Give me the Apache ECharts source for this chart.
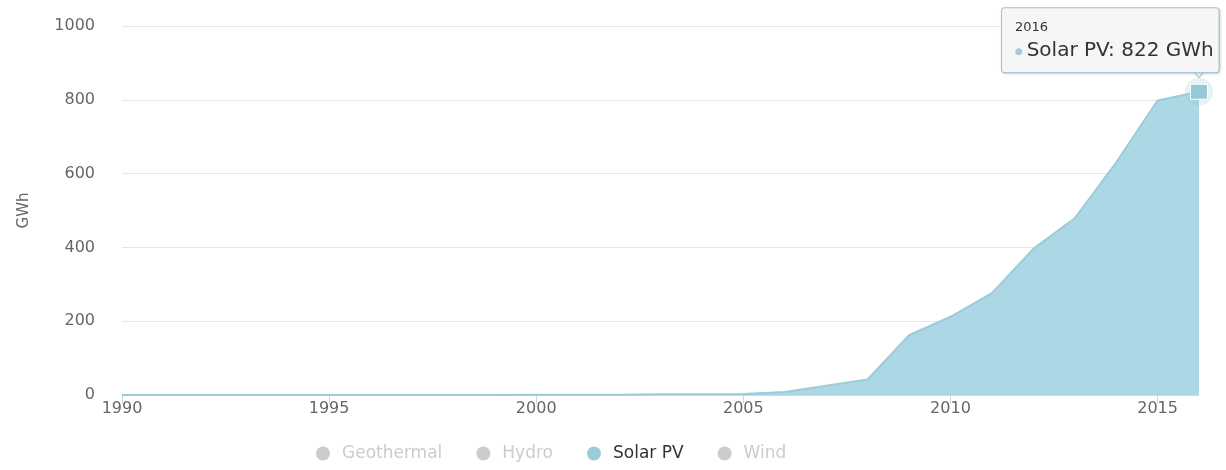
<!DOCTYPE html>
<html>
<head>
<meta charset="utf-8">
<title>Solar PV generation</title>
<script src="https://cdn.jsdelivr.net/npm/echarts@6/dist/echarts.min.js"></script>
<style>
  html, body { margin: 0; padding: 0; background: #ffffff; }
  #chart { width: 1226px; height: 470px; }
</style>
</head>
<body>
<div id="chart"></div>
<script>
// Annual electricity generation by source (GWh)
const years = [1990, 1991, 1992, 1993, 1994, 1995, 1996, 1997, 1998, 1999,
               2000, 2001, 2002, 2003, 2004, 2005, 2006, 2007, 2008, 2009,
               2010, 2011, 2012, 2013, 2014, 2015, 2016];
const solarPV = [0, 0, 0, 0, 0, 0, 0, 0, 0, 0,
                 1, 1, 1, 2, 2, 3, 8, 25, 42, 162,
                 212, 276, 396, 479, 630, 798, 822];
const geothermal = [];
const hydro = [];
const wind = [];
const xTicks = [1990, 1995, 2000, 2005, 2010, 2015];
const yTicks = [0, 200, 400, 600, 800, 1000];

const seriesNames = ['Geothermal', 'Hydro', 'Solar PV', 'Wind'];
const solarColor = '#9ccbda';
const solarFill = '#acd7e4';
const font = 'DejaVu Sans';

const pairs = arr => arr.map((v, i) => [years[i], v]);
const lastYear = years[years.length - 1];
const lastValue = solarPV[solarPV.length - 1];
const focus = [lastYear, lastValue];

const chart = echarts.init(document.getElementById('chart'), null, { renderer: 'canvas' });

chart.setOption({
  animation: false,
  backgroundColor: '#ffffff',
  textStyle: { fontFamily: font },
  grid: { left: 122, right: 27, top: 26, bottom: 75 },
  legend: {
    left: 311,
    bottom: 3,
    icon: 'circle',
    itemWidth: 14,
    itemHeight: 14,
    itemGap: 34,
    inactiveColor: '#cccccc',
    textStyle: { fontFamily: font, fontSize: 17, color: '#333333', padding: [0, 0, 0, 7] },
    data: seriesNames,
    selected: { 'Geothermal': false, 'Hydro': false, 'Solar PV': true, 'Wind': false }
  },
  xAxis: {
    type: 'value',
    min: 1990,
    max: 2016,
    interval: 5,
    axisLine: { show: true, lineStyle: { color: '#ccd6eb', width: 1 } },
    axisTick: { show: true, length: 9, lineStyle: { color: '#ccd6eb' }, customValues: xTicks },
    axisLabel: {
      customValues: xTicks,
      formatter: v => String(v),
      color: '#666666', fontSize: 16, fontFamily: font, margin: 6
    },
    splitLine: { show: false }
  },
  yAxis: {
    type: 'value',
    min: 0,
    max: 1000,
    interval: 200,
    name: 'GWh',
    nameLocation: 'middle',
    nameRotate: 90,
    nameGap: 90,
    nameTextStyle: { color: '#666666', fontSize: 15, fontFamily: font },
    axisLine: { show: false },
    axisTick: { show: false },
    axisLabel: {
      customValues: yTicks,
      formatter: v => String(v),
      color: '#666666', fontSize: 16, fontFamily: font, margin: 27
    },
    splitLine: { lineStyle: { color: '#e6e6e6', width: 1 } }
  },
  series: [
    { name: 'Geothermal', type: 'line', data: pairs(geothermal), itemStyle: { color: '#cccccc' } },
    { name: 'Hydro', type: 'line', data: pairs(hydro), itemStyle: { color: '#cccccc' } },
    {
      name: 'Solar PV',
      type: 'line',
      data: pairs(solarPV),
      showSymbol: false,
      symbol: 'none',
      itemStyle: { color: solarColor },
      lineStyle: { color: solarColor, width: 2 },
      areaStyle: { color: solarFill, opacity: 1 },
      markPoint: {
        silent: true,
        animation: false,
        data: [
          // halo around the hovered point
          {
            coord: focus, symbol: 'circle', symbolSize: 28,
            itemStyle: { color: 'rgba(156,203,218,0.25)' },
            label: { show: false }
          },
          // hovered point marker
          {
            coord: focus, symbol: 'rect', symbolSize: [17, 15],
            itemStyle: { color: '#95c8d9', borderColor: '#ffffff', borderWidth: 1 },
            label: { show: false }
          },
          // tooltip pointer
          {
            coord: focus, symbol: 'triangle', symbolRotate: 180, symbolSize: [14, 8],
            symbolOffset: [0, -18],
            itemStyle: { color: '#f7f7f7', borderColor: '#9ccbda', borderWidth: 1 },
            label: { show: false }
          },
          // tooltip box
          {
            coord: focus, symbol: 'rect', symbolSize: [1, 1],
            itemStyle: { color: 'rgba(0,0,0,0)' },
            label: {
              show: true,
              position: 'top',
              align: 'left',
              offset: [-197, -14],
              backgroundColor: 'rgba(247,247,247,0.96)',
              borderColor: '#9ccbda',
              borderWidth: 1,
              borderRadius: 3,
              padding: [8, 5, 8, 13],
              shadowColor: 'rgba(0,0,0,0.12)',
              shadowBlur: 3,
              shadowOffsetX: 1,
              shadowOffsetY: 1,
              formatter: () => '{y|' + lastYear + '}\n{dot|●} {v|Solar PV: ' + lastValue + ' GWh}',
              rich: {
                y: { fontFamily: font, fontSize: 13, color: '#333333', lineHeight: 22 },
                dot: { fontFamily: font, fontSize: 9, color: solarColor, lineHeight: 26 },
                v: { fontFamily: font, fontSize: 20, color: '#333333', lineHeight: 26 }
              }
            }
          }
        ]
      }
    },
    { name: 'Wind', type: 'line', data: pairs(wind), itemStyle: { color: '#cccccc' } }
  ]
});
</script>
</body>
</html>
